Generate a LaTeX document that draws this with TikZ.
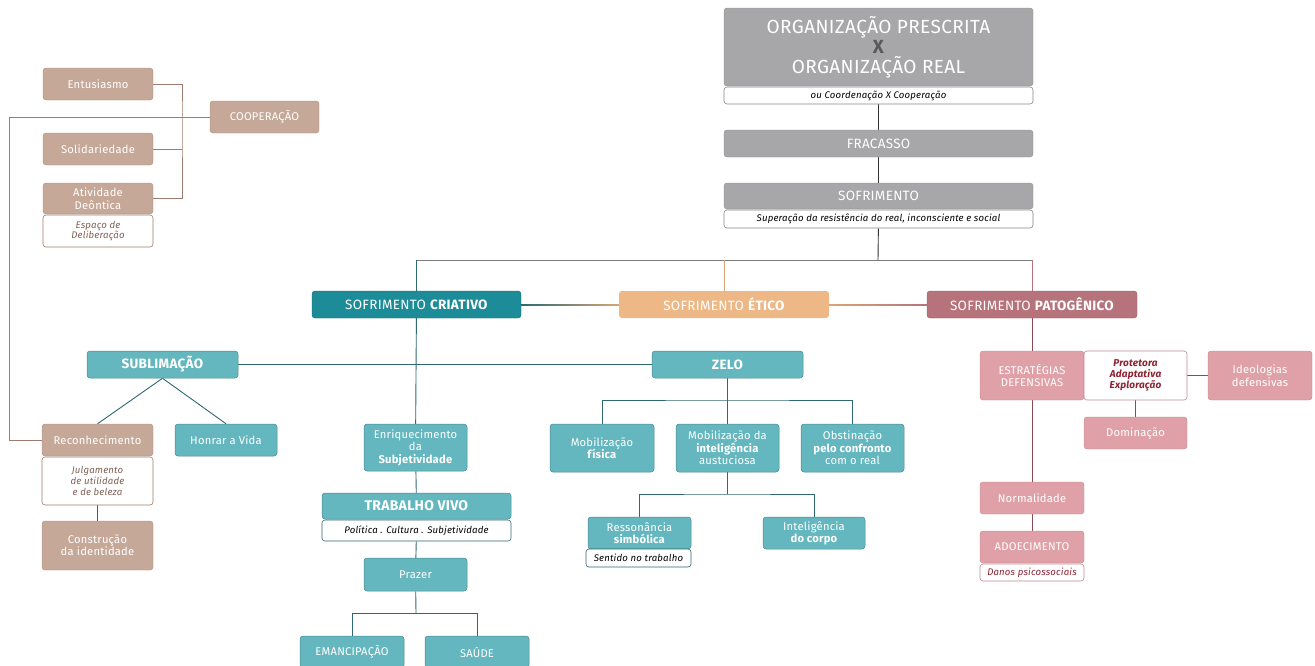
\documentclass[tikz,border=0pt]{standalone}
\usepackage{fontspec}
\setmainfont{Fira Sans}[LetterSpace=2.0]
\usetikzlibrary{calc,backgrounds}

\definecolor{cgray}{HTML}{A7A7A9}
\definecolor{cx}{HTML}{5A5A5C}
\definecolor{cteal}{HTML}{1B8C98}
\definecolor{clteal}{HTML}{64B7BF}
\definecolor{cethic}{HTML}{EEB886}
\definecolor{cpat}{HTML}{B6737B}
\definecolor{cpink}{HTML}{DFA1A7}
\definecolor{cbrown}{HTML}{C5A898}
\definecolor{lgray}{HTML}{7C7C7C}
\definecolor{lteal}{HTML}{2E6870}
\definecolor{lbrown}{HTML}{9E7B6C}
\definecolor{lred}{HTML}{8C4A52}
\definecolor{tred}{HTML}{8E2232}

\begin{document}
\begin{tikzpicture}[x=1pt,y=-1pt,
    box/.style={rounded corners=3pt,inner sep=1pt,align=center,text=white,
      font=\fontsize{11.2}{12.4}\selectfont},
    gbox/.style={box,fill=cgray,draw=cgray!85!black,line width=0.4pt},
    tbox/.style={box,fill=clteal,draw=clteal!75!black,line width=0.5pt},
    bbox/.style={box,fill=cbrown,draw=cbrown!85!black,line width=0.4pt},
    pbox/.style={box,fill=cpink,draw=cpink!85!black,line width=0.4pt},
    sub/.style={rounded corners=3pt,inner sep=1pt,align=center,fill=white,
      line width=0.6pt,font=\fontsize{9.6}{10.8}\selectfont\itshape},
    gline/.style={draw=lgray,line width=0.9pt},
    tline/.style={draw=lteal,line width=0.9pt},
    bline/.style={draw=lbrown,line width=0.8pt},
    rline/.style={draw=lred,line width=0.9pt}]
  \clip (0,0) rectangle (1315,665);

  % top column
  \node[gbox,minimum width=309pt,minimum height=78pt,
    font=\fontsize{19}{20}\selectfont] (org) at (878.5,47)
    {ORGANIZAÇÃO PRESCRITA\\{\bfseries\color{cx}X}\\ORGANIZAÇÃO REAL};
  \node[sub,draw=cgray!80!black,text=black,minimum width=309pt,minimum height=17pt] (orgsub) at (878.5,95.5) {ou Coordenação X Cooperação};
  \node[gbox,minimum width=309pt,minimum height=27pt,font=\fontsize{13.5}{14}\selectfont] (fracasso) at (878.5,143.5) {FRACASSO};
  \node[gbox,minimum width=309pt,minimum height=26pt,font=\fontsize{13.5}{14}\selectfont] (sofr) at (878.5,196) {SOFRIMENTO};
  \node[sub,draw=cgray!80!black,text=black,minimum width=309pt,minimum height=18pt] (sofrsub) at (878.5,219) {Superação da resistência do real, inconsciente e social};
  \coordinate (hub) at (878,260);

  % three kinds of suffering
  \node[box,fill=cteal,draw=cteal!75!black,minimum width=209pt,minimum height=27pt,
    font=\fontsize{13.5}{14}\selectfont] (criativo) at (416.5,304.5) {SOFRIMENTO \textbf{CRIATIVO}};
  \node[box,fill=cethic,minimum width=210pt,minimum height=27pt,
    font=\fontsize{13.5}{14}\selectfont] (etico) at (724,304.5) {SOFRIMENTO \textbf{ÉTICO}};
  \node[box,fill=cpat,draw=cpat!80!black,minimum width=210pt,minimum height=27pt,
    font=\fontsize{13.5}{14}\selectfont] (patog) at (1032,304.5) {SOFRIMENTO \textbf{PATOGÊNICO}};

  % cooperation (left)
  \node[bbox,minimum width=109pt,minimum height=32pt] (coop) at (264.5,117) {COOPERAÇÃO};
  \node[bbox,minimum width=110pt,minimum height=32pt] (entus) at (98,84) {Entusiasmo};
  \node[bbox,minimum width=110pt,minimum height=32pt] (solid) at (98,149) {Solidariedade};
  \node[bbox,minimum width=110pt,minimum height=31pt] (ativ) at (98,198.5) {Atividade\\Deôntica};
  \node[sub,draw=lbrown,text=lbrown!80!black,minimum width=110pt,minimum height=32pt] (ativsub) at (98,231) {Espaço de\\Deliberação};
  \coordinate (bracket) at (182,117);
  \coordinate (rail) at (9,440);

  % sublimation
  \node[tbox,minimum width=151pt,minimum height=27pt,font=\fontsize{13.5}{14}\selectfont] (subl) at (162.5,364.5) {\textbf{SUBLIMAÇÃO}};
  \node[bbox,minimum width=111pt,minimum height=32pt] (recon) at (97.5,440) {Reconhecimento};
  \node[sub,draw=lbrown,text=lbrown!80!black,minimum width=111pt,minimum height=48pt] (reconsub) at (97.5,481) {Julgamento\\de utilidade\\e de beleza};
  \node[bbox,minimum width=111pt,minimum height=49pt] (constr) at (97.5,545.5) {Construção\\da identidade};
  \node[tbox,minimum width=102pt,minimum height=32pt] (honrar) at (226,440) {Honrar a Vida};

  % living work
  \node[tbox,minimum width=103pt,minimum height=47pt] (enriq) at (415.5,447.5) {Enriquecimento\\da\\\textbf{Subjetividade}};
  \node[tbox,minimum width=189pt,minimum height=26pt,font=\fontsize{14}{15}\selectfont] (trabalho) at (416.5,506) {\textbf{TRABALHO VIVO}};
  \node[sub,draw=lteal,text=black,minimum width=189pt,minimum height=21pt] (trabsub) at (416.5,530.5) {Política . Cultura . Subjetividade};
  \node[tbox,minimum width=103pt,minimum height=33pt] (prazer) at (415.5,574.5) {Prazer};
  \coordinate (pfork) at (416,613);
  \node[tbox,minimum width=104pt,minimum height=32pt] (emanc) at (352,652) {EMANCIPAÇÃO};
  \node[tbox,minimum width=104pt,minimum height=32pt] (saude) at (477,652) {SAÚDE};

  % zeal
  \node[tbox,minimum width=151pt,minimum height=27pt,font=\fontsize{13.5}{14}\selectfont] (zelo) at (727.5,364.5) {\textbf{ZELO}};
  \coordinate (zfork) at (727.5,400);
  \node[tbox,minimum width=104pt,minimum height=48pt] (mobfis) at (602,448) {Mobilização\\\textbf{física}};
  \node[tbox,minimum width=103pt,minimum height=48pt] (mobint) at (727.5,448) {Mobilização da\\\textbf{inteligência}\\austuciosa};
  \node[tbox,minimum width=103pt,minimum height=48pt] (obst) at (852.5,448) {Obstinação\\\textbf{pelo confronto}\\com o real};
  \coordinate (mfork) at (727.5,494);
  \node[tbox,minimum width=103pt,minimum height=32pt] (resson) at (639.5,533) {Ressonância\\\textbf{simbólica}};
  \node[sub,draw=lteal,text=black,minimum width=105pt,minimum height=18pt] (ressub) at (638.5,558) {Sentido no trabalho};
  \node[tbox,minimum width=102pt,minimum height=32pt] (intcorpo) at (814,533) {Inteligência\\\textbf{do corpo}};

  % pathogenic
  \node[pbox,minimum width=104pt,minimum height=49pt] (estr) at (1032,375.5) {ESTRATÉGIAS\\DEFENSIVAS};
  \node[sub,draw=cpink!85!black,text=tred,minimum width=103pt,minimum height=49pt,
    font=\fontsize{10}{11}\selectfont\bfseries\itshape] (prot) at (1135.5,375.5) {Protetora\\Adaptativa\\Exploração};
  \node[pbox,minimum width=104pt,minimum height=49pt] (ideol) at (1260,375.5) {Ideologias\\defensivas};
  \node[pbox,minimum width=103pt,minimum height=32pt] (domin) at (1135.5,433) {Dominação};
  \node[pbox,minimum width=104pt,minimum height=32pt] (normal) at (1032,498) {Normalidade};
  \node[pbox,minimum width=104pt,minimum height=32pt] (adoec) at (1032,547) {ADOECIMENTO};
  \node[sub,draw=cpink!85!black,text=tred,minimum width=104pt,minimum height=17pt] (danos) at (1032,572.5) {Danos psicossociais};

  \begin{scope}[on background layer]
    \draw[draw=black!80,line width=0.9pt] (orgsub) -- (fracasso);
    \draw[draw=black!80,line width=0.9pt] (fracasso) -- (sofr);
    \draw[draw=black!80,line width=0.9pt] (sofrsub) -- (hub);
    \draw[gline] (criativo.north |- hub) -- (patog.north |- hub);
    \draw[draw=lteal,line width=0.9pt] (criativo.north) -- (criativo.north |- hub);
    \draw[draw=cethic!90!black,line width=0.9pt] (etico.north) -- (etico.north |- hub);
    \draw[draw=cpat,line width=0.9pt] (patog.north) -- (patog.north |- hub);
    \shade[left color=lteal,right color=cethic!90!black] ($(criativo.east)+(0,-0.5)$) rectangle ($(etico.west)+(0,0.5)$);
    \shade[left color=cethic!90!black,right color=cpat] ($(etico.east)+(0,-0.5)$) rectangle ($(patog.west)+(0,0.5)$);

    \draw[bline] (entus) -| (bracket) |- (ativ);
    \draw[bline] (solid) -- (solid -| bracket);
    \draw[bline] (coop) -| (rail) -- (recon);

    \draw[tline] (subl) -- (zelo);
    \draw[tline] (subl.south) -- (recon.north);
    \draw[tline] (subl.south) -- (honrar.north);
    \draw[tline] (reconsub) -- (constr);

    \draw[tline] (criativo) -- (enriq);
    \draw[tline] (enriq) -- (trabalho);
    \draw[tline] (trabsub) -- (prazer);
    \draw[tline] (prazer) -- (pfork);
    \draw[tline] (emanc.north) |- (pfork) -| (saude.north);

    \draw[tline] (zelo) -- (mobint);
    \draw[tline] (mobfis.north) |- (zfork) -| (obst.north);
    \draw[tline] (mobint) -- (mfork);
    \draw[tline] (resson.north) |- (mfork) -| (intcorpo.north);

    \draw[rline] (patog) -- (normal);
    \draw[rline] (normal) -- (adoec);
    \draw[rline] (prot) -- (ideol);
    \draw[rline] (prot) -- (domin);
  \end{scope}
\end{tikzpicture}
\end{document}
